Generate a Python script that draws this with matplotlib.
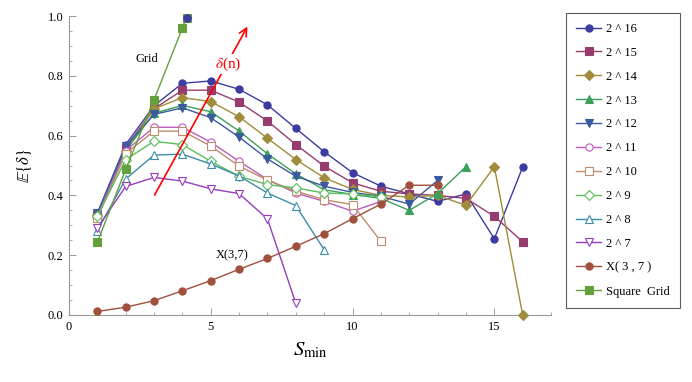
import matplotlib
matplotlib.use("Agg")
import matplotlib.pyplot as plt
from matplotlib.ticker import MultipleLocator, FormatStrFormatter

plt.rcParams["font.family"] = ["Liberation Serif", "DejaVu Serif"]
plt.rcParams["mathtext.fontset"] = "stix"

# series values
x16 = list(range(1, 17))
y16 = [0.34, 0.57, 0.70, 0.775, 0.783, 0.755, 0.703, 0.624, 0.546, 0.476, 0.431, 0.405, 0.38, 0.405, 0.255, 0.495]
x15 = list(range(1, 17))
y15 = [0.335, 0.56, 0.69, 0.752, 0.752, 0.712, 0.649, 0.570, 0.498, 0.442, 0.414, 0.405, 0.40, 0.39, 0.33, 0.245]
x14 = list(range(1, 17))
y14 = [0.335, 0.55, 0.69, 0.727, 0.714, 0.663, 0.591, 0.520, 0.459, 0.42, 0.40, 0.395, 0.40, 0.367, 0.496, 0.0]
x13 = list(range(1, 15))
y13 = [0.335, 0.55, 0.675, 0.701, 0.68, 0.615, 0.539, 0.472, 0.419, 0.403, 0.39, 0.35, 0.406, 0.496]
x12 = list(range(1, 14))
y12 = [0.34, 0.565, 0.671, 0.693, 0.66, 0.595, 0.522, 0.464, 0.431, 0.41, 0.397, 0.371, 0.45]
x11 = list(range(1, 12))
y11 = [0.33, 0.55, 0.628, 0.628, 0.578, 0.514, 0.453, 0.408, 0.38, 0.347, 0.38]
x10 = list(range(1, 12))
y10 = [0.325, 0.54, 0.615, 0.615, 0.565, 0.498, 0.451, 0.414, 0.386, 0.369, 0.246]
x9 = list(range(1, 12))
y9 = [0.33, 0.52, 0.581, 0.570, 0.514, 0.464, 0.436, 0.425, 0.408, 0.405, 0.395]
x8 = list(range(1, 10))
y8 = [0.282, 0.455, 0.535, 0.538, 0.505, 0.465, 0.408, 0.366, 0.218]
x7 = list(range(1, 9))
y7 = [0.291, 0.43, 0.46, 0.448, 0.422, 0.406, 0.321, 0.039]
x37 = list(range(1, 14))
y37 = [0.012, 0.026, 0.048, 0.081, 0.115, 0.153, 0.189, 0.23, 0.272, 0.322, 0.371, 0.434, 0.434]
xgrid = [1, 2, 3, 4, 4.15]
ygrid = [0.243, 0.487, 0.72, 0.96, 0.995]

labels = ["2 ^ 16", "2 ^ 15", "2 ^ 14", "2 ^ 13", "2 ^ 12", "2 ^ 11", "2 ^ 10",
          "2 ^ 9", "2 ^ 8", "2 ^ 7", "X( 3 , 7 )", "Square  Grid"]

series = [
    (x16, y16, "#3c3ca0", "o", True),
    (x15, y15, "#963c6e", "s", True),
    (x14, y14, "#a08c3c", "D", True),
    (x13, y13, "#3ca05a", "^", True),
    (x12, y12, "#3c5aa0", "v", True),
    (x11, y11, "#be5abe", "o", False),
    (x10, y10, "#be8c6e", "s", False),
    (x9, y9, "#5abe5a", "D", False),
    (x8, y8, "#3c8caa", "^", False),
    (x7, y7, "#963cbe", "v", False),
    (x37, y37, "#a0503c", "o", True),
    (xgrid, ygrid, "#64a03c", "s", True),
]

fig = plt.figure(figsize=(6.92, 3.82), dpi=100)
ax = fig.add_axes([0.0997, 0.1754, 0.6966, 0.7826])

handles = []
for (xs, ys, color, mk, filled), label in zip(series, labels):
    size = 4.6 if mk in ("D",) else 5.2
    h, = ax.plot(xs, ys, color=color, lw=1.0, marker=mk, markersize=size,
                 markerfacecolor=color if filled else "white",
                 markeredgecolor=color, markeredgewidth=0.8,
                 label=label, clip_on=False, zorder=3)
    handles.append(h)

# top grid point drawn as a blue circle
ax.plot([xgrid[-1]], [ygrid[-1]], "o", color="#3c3ca0", markersize=5.2, clip_on=False, zorder=4)

# red delta(n) arrow with label
ax.annotate("", xy=(6.34, 0.973), xytext=(2.97, 0.393),
            arrowprops=dict(arrowstyle="->", color="red", lw=1.2, mutation_scale=14))
ax.text(5.6, 0.84, r"$\delta$(n)", color="red", fontsize=11, ha="center", va="center",
        bbox=dict(facecolor="white", edgecolor="none", pad=1.0), zorder=5)
ax.text(2.76, 0.856, "Grid", fontsize=9, ha="center", va="center")
ax.text(5.75, 0.20, "X(3,7)", fontsize=9, ha="center", va="center")

ax.set_xlim(0, 17)
ax.set_ylim(0, 1.0)
for side in ("top", "right"):
    ax.spines[side].set_visible(False)
for side in ("left", "bottom"):
    ax.spines[side].set_color("#999999")
    ax.spines[side].set_linewidth(0.8)

ax.xaxis.set_major_locator(MultipleLocator(5))
ax.xaxis.set_minor_locator(MultipleLocator(1))
ax.yaxis.set_major_locator(MultipleLocator(0.2))
ax.yaxis.set_minor_locator(MultipleLocator(0.05))
ax.yaxis.set_major_formatter(FormatStrFormatter("%.1f"))
ax.tick_params(which="major", direction="in", length=5, width=0.7, color="#999999",
               labelsize=9, pad=4)
ax.tick_params(which="minor", direction="in", length=2.5, width=0.6, color="#999999")

ax.set_xlabel(r"$S_{\rm min}$", fontsize=15, labelpad=6)
ax.set_ylabel(r"$\mathbb{E}\{\delta\}$", fontsize=12, labelpad=10)

leg = fig.legend(handles=handles, loc="upper left", bbox_to_anchor=(0.818, 0.966),
                 fontsize=9, frameon=True, fancybox=False, edgecolor="#333333",
                 handlelength=2.0, handletextpad=0.4, labelspacing=0.95,
                 borderpad=0.8, borderaxespad=0.0)
leg.get_frame().set_linewidth(0.8)

fig.savefig("out.png", dpi=100)
